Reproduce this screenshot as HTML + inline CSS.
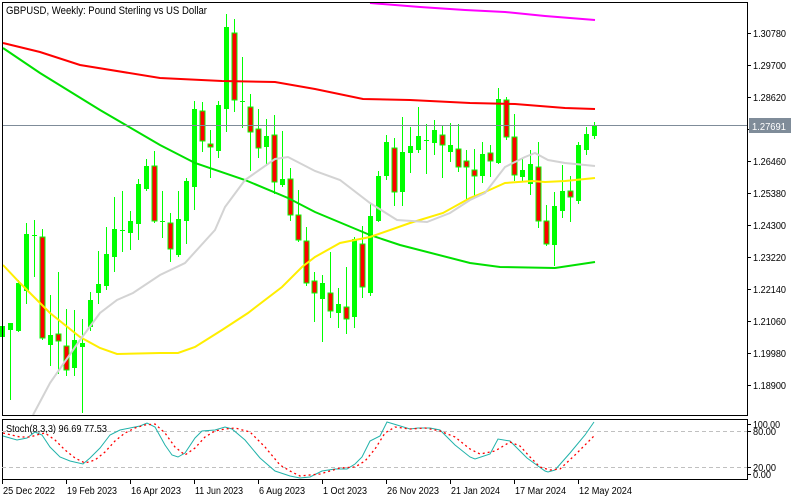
<!DOCTYPE html>
<html><head><meta charset="utf-8"><style>
html,body{margin:0;padding:0;background:#fff;width:800px;height:500px;overflow:hidden}
svg{display:block;font-family:"Liberation Sans","DejaVu Sans",sans-serif}
</style></head><body>
<svg id="s" width="800" height="500" viewBox="0 0 800 500" xmlns="http://www.w3.org/2000/svg" shape-rendering="crispEdges">
<rect width="800" height="500" fill="#fff"/>
<g id="cand"></g>
<g fill="none" stroke-width="2" shape-rendering="auto">
<polyline stroke="#ff00ff" points="370,3 420,7 465,10 505,12 545,16 595,20"/>
<polyline stroke="#ff0000" points="3,43 40,52 80,65 160,78 222,81 275,82 315,89 363,99 410,100 470,103 515,104 565,108 595,109"/>
<polyline stroke="#00e000" points="3,48 40,73 100,110 160,145 195,163 245,180 288,198 315,212 370,235 400,245 470,263 500,267 555,268 595,262"/>
<polyline stroke="#ffee00" points="3,265 20,283 50,313 80,337 100,348 117,354 160,353 178,353 195,347 222,330 248,313 282,287 302,267 315,257 340,243 370,237 410,223 443,213 470,198 485,192 505,183 532,181 545,182 565,181 595,178"/>
<polyline stroke="#d3d3d3" points="33,415 50,383 80,340 100,313 117,300 133,293 160,275 185,263 215,230 225,207 245,180 275,159 288,157 315,171 340,180 370,203 397,220 427,222 450,213 470,200 485,193 505,167 525,157 535,153 548,160 565,163 595,166"/>
</g>
<line x1="2" y1="125.5" x2="747" y2="125.5" stroke="#7f8c99"/>
<rect x="2.5" y="2.5" width="745" height="413" fill="none" stroke="#000"/>
<rect x="2.5" y="419.5" width="745" height="60" fill="none" stroke="#000"/>
<line x1="2" y1="431.5" x2="747" y2="431.5" stroke="#c0c0c0" stroke-dasharray="4,3"/>
<line x1="2" y1="467.5" x2="747" y2="467.5" stroke="#c0c0c0" stroke-dasharray="4,3"/>
<g fill="none" shape-rendering="auto">
<polyline stroke="#20b2aa" stroke-width="1" points="3,436 17,440 27,438 35,432 42,435 50,447 60,457 70,461 83,464 90,458 100,448 110,435 120,430 130,428 140,426 147,423 155,427 165,445 172,455 178,457 185,453 195,438 202,431 215,430 225,427 232,429 245,440 260,458 275,471 290,476 300,478 310,477 322,471 335,469 347,469 355,464 362,457 370,441 380,436 387,422 397,425 410,429 418,428 430,428 440,430 455,445 470,457 475,459 490,454 498,439 510,441 520,451 527,458 545,471 548,472 555,470 570,453 585,435 594,422"/>
<polyline stroke="#ff0000" stroke-width="1.3" stroke-dasharray="2,3" points="3,433 20,437 30,437 40,434 45,433 55,440 65,450 75,458 85,463 95,460 105,452 115,441 125,433 135,428 145,425 155,424 165,433 175,447 185,455 195,448 205,437 215,431 225,429 235,428 250,432 265,447 280,465 290,471 300,476 320,474 340,468 355,467 365,461 375,449 385,433 395,427 410,429 425,428 440,431 455,437 470,449 480,454 495,451 510,442 520,446 530,457 540,467 550,470 560,469 575,455 594,436"/>
</g>
<text x="6" y="14" font-size="11" fill="#000" textLength="201" lengthAdjust="spacingAndGlyphs">GBPUSD, Weekly:  Pound Sterling vs US Dollar</text>
<text x="6" y="432" font-size="10" fill="#000" textLength="101" lengthAdjust="spacingAndGlyphs">Stoch(8,3,3) 96.69 77.53</text>
<g font-size="10" fill="#000">
<text x="753" y="37" textLength="33" lengthAdjust="spacingAndGlyphs">1.30780</text>
<text x="753" y="69" textLength="33" lengthAdjust="spacingAndGlyphs">1.29700</text>
<text x="753" y="101" textLength="33" lengthAdjust="spacingAndGlyphs">1.28620</text>
<text x="753" y="165" textLength="33" lengthAdjust="spacingAndGlyphs">1.26460</text>
<text x="753" y="197" textLength="33" lengthAdjust="spacingAndGlyphs">1.25380</text>
<text x="753" y="229" textLength="33" lengthAdjust="spacingAndGlyphs">1.24300</text>
<text x="753" y="261" textLength="33" lengthAdjust="spacingAndGlyphs">1.23220</text>
<text x="753" y="293" textLength="33" lengthAdjust="spacingAndGlyphs">1.22140</text>
<text x="753" y="325" textLength="33" lengthAdjust="spacingAndGlyphs">1.21060</text>
<text x="753" y="357" textLength="33" lengthAdjust="spacingAndGlyphs">1.19980</text>
<text x="753" y="389" textLength="33" lengthAdjust="spacingAndGlyphs">1.18900</text>
<text x="753" y="428" textLength="27" lengthAdjust="spacingAndGlyphs">100.00</text>
<text x="753" y="435" textLength="23" lengthAdjust="spacingAndGlyphs">80.00</text>
<text x="753" y="471" textLength="23" lengthAdjust="spacingAndGlyphs">20.00</text>
<text x="753" y="478" textLength="18" lengthAdjust="spacingAndGlyphs">0.00</text>
</g>
<g stroke="#000">
<line x1="747" y1="33.5" x2="751" y2="33.5"/><line x1="747" y1="65.5" x2="751" y2="65.5"/><line x1="747" y1="97.5" x2="751" y2="97.5"/><line x1="747" y1="129.5" x2="751" y2="129.5"/><line x1="747" y1="161.5" x2="751" y2="161.5"/><line x1="747" y1="193.5" x2="751" y2="193.5"/><line x1="747" y1="225.5" x2="751" y2="225.5"/><line x1="747" y1="257.5" x2="751" y2="257.5"/><line x1="747" y1="289.5" x2="751" y2="289.5"/><line x1="747" y1="321.5" x2="751" y2="321.5"/><line x1="747" y1="353.5" x2="751" y2="353.5"/><line x1="747" y1="385.5" x2="751" y2="385.5"/>
<line x1="747" y1="424.5" x2="751" y2="424.5"/><line x1="747" y1="431.5" x2="751" y2="431.5"/><line x1="747" y1="467.5" x2="751" y2="467.5"/><line x1="747" y1="474.5" x2="751" y2="474.5"/>
<line x1="2.5" y1="479" x2="2.5" y2="484"/><line x1="66.5" y1="479" x2="66.5" y2="484"/><line x1="130.5" y1="479" x2="130.5" y2="484"/><line x1="194.5" y1="479" x2="194.5" y2="484"/><line x1="258.5" y1="479" x2="258.5" y2="484"/><line x1="322.5" y1="479" x2="322.5" y2="484"/><line x1="386.5" y1="479" x2="386.5" y2="484"/><line x1="450.5" y1="479" x2="450.5" y2="484"/><line x1="514.5" y1="479" x2="514.5" y2="484"/><line x1="578.5" y1="479" x2="578.5" y2="484"/>
</g>
<rect x="749" y="118" width="42" height="15" fill="#7f8c99"/>
<text x="752" y="130" font-size="10" fill="#fff" textLength="34" lengthAdjust="spacingAndGlyphs">1.27691</text>
<g font-size="10" fill="#000">
<text x="3" y="494" textLength="52" lengthAdjust="spacingAndGlyphs">25 Dec 2022</text>
<text x="67" y="494" textLength="50" lengthAdjust="spacingAndGlyphs">19 Feb 2023</text>
<text x="131" y="494" textLength="50" lengthAdjust="spacingAndGlyphs">16 Apr 2023</text>
<text x="195" y="494" textLength="48" lengthAdjust="spacingAndGlyphs">11 Jun 2023</text>
<text x="259" y="494" textLength="46" lengthAdjust="spacingAndGlyphs">6 Aug 2023</text>
<text x="323" y="494" textLength="44" lengthAdjust="spacingAndGlyphs">1 Oct 2023</text>
<text x="387" y="494" textLength="52" lengthAdjust="spacingAndGlyphs">26 Nov 2023</text>
<text x="451" y="494" textLength="49" lengthAdjust="spacingAndGlyphs">21 Jan 2024</text>
<text x="515" y="494" textLength="51" lengthAdjust="spacingAndGlyphs">17 Mar 2024</text>
<text x="579" y="494" textLength="53" lengthAdjust="spacingAndGlyphs">12 May 2024</text>
</g>
</svg>
<script>
var c=[[325,338,326,337,0],[323,399,323,330,0],[280,331,283,331,0],[223,303,234,291,0],[220,276,235,235,0],[229,339,237,338,1],[295,365,335,345,0],[272,373,334,341,1],[309,375,346,370,1],[310,375,340,368,0],
[319,412,343,347,0],[292,330,300,327,0],[251,303,284,293,0],[227,289,254,286,0],[197,271,229,257,0],[191,251,230,230,0],[211,249,221,233,0],[179,239,184,224,0],[159,190,166,189,0],[151,222,166,221,1],
[191,237,221,221,0],[213,261,223,249,1],[191,256,219,255,0],[178,243,181,221,0],[101,209,109,187,0],[102,151,111,141,1],[130,177,144,147,1],[101,157,105,151,0],[14,131,27,109,0],[19,111,33,100,1],
[57,127,101,101,0],[94,170,107,132,1],[109,157,129,148,1],[119,165,136,147,0],[115,193,135,182,1],[131,186,179,185,0],[168,220,179,215,1],[190,241,215,240,1],[227,285,241,283,1],[272,321,281,293,1],
[275,341,283,299,0],[252,317,293,311,1],[288,327,304,313,0],[267,333,307,319,1],[237,327,239,317,0],[226,297,244,287,1],[203,295,216,293,0],[171,221,176,221,0],[135,179,142,176,0],[138,205,148,192,1],
[117,205,152,192,0],[127,172,146,153,0],[107,152,136,150,0],[124,173,140,140,0],[120,154,130,143,0],[126,177,135,145,1],[123,161,145,152,0],[124,171,149,167,1],[150,199,161,167,1],[149,195,170,176,1],
[142,182,154,176,0],[145,176,153,161,1],[88,163,99,163,0],[97,139,100,137,1],[114,180,137,175,1],[158,180,170,177,0],[150,194,164,184,0],[142,227,167,221,1],[205,245,221,244,1],[192,265,206,245,0],
[165,217,191,211,0],[176,221,191,197,1],[142,203,145,201,0],[127,154,134,150,0],[122,138,125,136,0]];
var g=document.getElementById('cand'),h='';
for(var i=0;i<c.length;i++){var x=2+8*i,d=c[i];
h+='<line x1="'+(x+0.5)+'" y1="'+d[0]+'" x2="'+(x+0.5)+'" y2="'+(d[1]+1)+'" stroke="#00ff00"/>';
var bh=Math.max(1,d[3]-d[2]);
if(d[4])h+='<rect x="'+(x-2)+'" y="'+d[2]+'" width="5" height="'+bh+'" fill="#ff0000" stroke="#00ff00" stroke-width="1"/>';
else h+='<rect x="'+(x-2)+'" y="'+d[2]+'" width="5" height="'+bh+'" fill="#00ff00"/>';}
g.innerHTML=h;
</script>
</body></html>
